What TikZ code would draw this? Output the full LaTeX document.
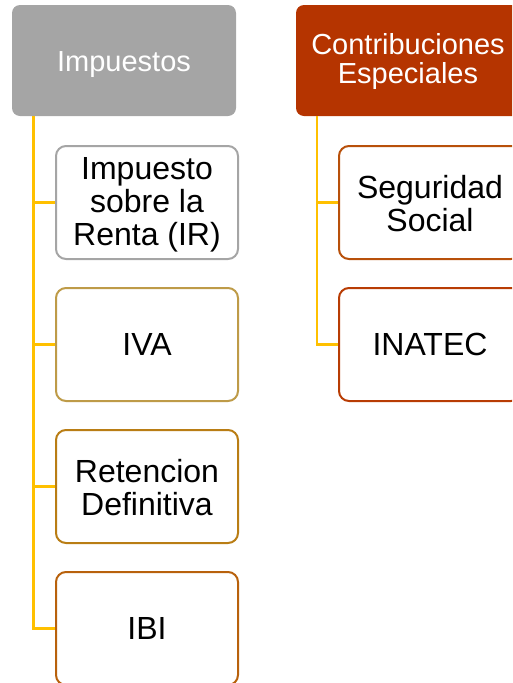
\documentclass[tikz,border=0pt]{standalone}
\usepackage{fontspec}
\setmainfont{Liberation Sans}
\definecolor{hgray}{HTML}{A5A5A5}
\definecolor{hred}{HTML}{B53400}
\definecolor{cIVA}{HTML}{BE9B48}
\definecolor{cRet}{HTML}{B97D14}
\definecolor{cIBI}{HTML}{B8610C}
\definecolor{cSeg}{HTML}{B8500A}
\definecolor{cINA}{HTML}{B83C04}
\definecolor{conncol}{HTML}{FFC000}
\tikzset{
  header/.style={rounded corners=8pt, minimum width=224pt, minimum height=111pt, inner sep=0pt,
    text=white, align=center, font=\fontsize{29}{29}\selectfont},
  child/.style={draw=#1, fill=white, line width=2pt, rounded corners=10pt, minimum width=182pt,
    minimum height=113pt, inner sep=0pt, align=center, font=\fontsize{32}{33}\selectfont},
  conn/.style={draw=conncol, line width=2.5pt}
}
\begin{document}
\begin{tikzpicture}[x=1pt,y=-1pt]
\useasboundingbox (0,0) rectangle (512,683);
\clip (0,0) rectangle (512,683);
\node[header, fill=hgray, text height=27pt, text depth=6pt] (imp) at (124,60.5) {Impuestos};
\node[header, fill=hred] (con) at (408,60.5) {\rule{0pt}{24pt}Contribuciones\\Especiales};
\coordinate (lt) at (33.5,116);
\coordinate (rt) at (317,116);
\node[child=hgray] (ir) at (147,202.5) {\rule{0pt}{27pt}Impuesto\\sobre la\\Renta (IR)};
\node[child=cIVA] (iva) at (147,344.5) {IVA};
\node[child=cRet] (ret) at (147,486.5) {\rule{0pt}{26pt}Retencion\\Definitiva};
\node[child=cIBI] (ibi) at (147,628.5) {IBI};
\node[child=cSeg] (seg) at (430,202.5) {\rule{0pt}{26pt}Seguridad\\Social};
\node[child=cINA] (ina) at (430,344.5) {INATEC};
\draw[conn] (lt) |- (ir.west);
\draw[conn] (lt) |- (iva.west);
\draw[conn] (lt) |- (ret.west);
\draw[conn] (lt) |- (ibi.west);
\draw[conn] (rt) |- (seg.west);
\draw[conn] (rt) |- (ina.west);
\end{tikzpicture}
\end{document}
